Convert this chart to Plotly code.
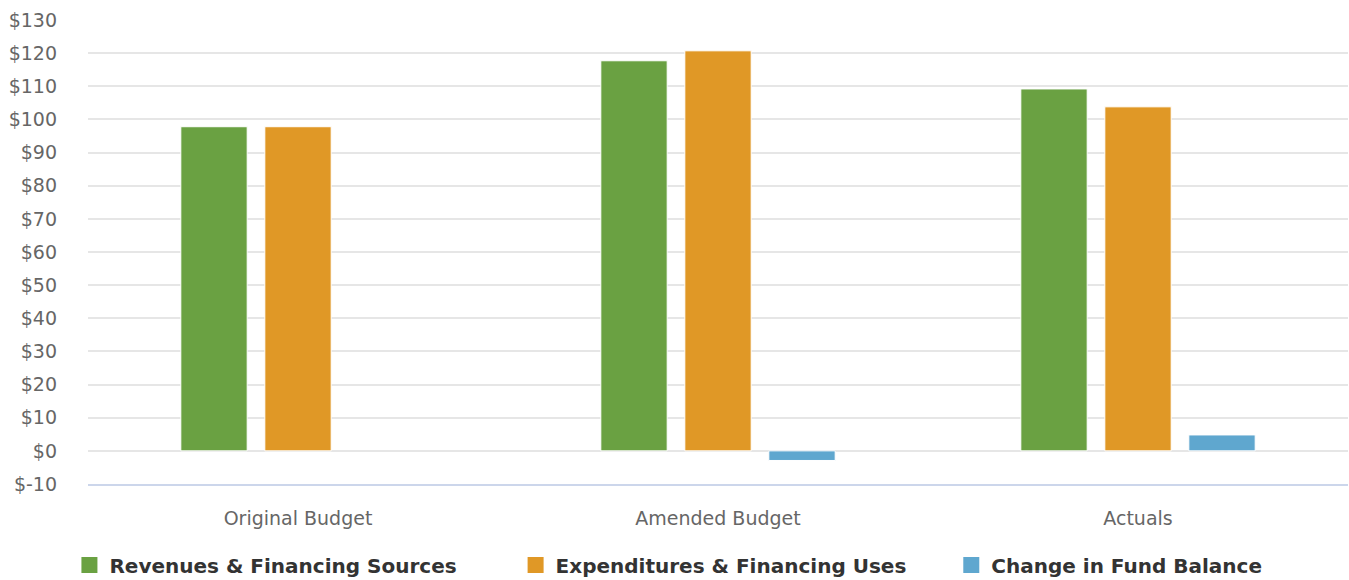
import plotly.graph_objects as go

categories = ["Original Budget", "Amended Budget", "Actuals"]
revenues = [97.8, 117.7, 109.2]
expenditures = [97.8, 120.7, 103.8]
change = [0, -2.9, 4.8]
series_names = ["Revenues & Financing Sources", "Expenditures & Financing Uses", "Change in Fund Balance"]
legend_pad = ["\u2003\u2003\u2002\u2009", "\u2003\u2002\u2002", ""]
colors = ["#6aa142", "#e09826", "#5fa7cf"]
tick_vals = [-10, 0, 10, 20, 30, 40, 50, 60, 70, 80, 90, 100, 110, 120, 130]
tick_text = ["$-10", "$0", "$10", "$20", "$30", "$40", "$50", "$60", "$70", "$80", "$90", "$100", "$110", "$120", "$130"]

fig = go.Figure()
for name, vals, col in zip(series_names, [revenues, expenditures, change], colors):
    fig.add_trace(go.Bar(x=categories, y=vals, name=name,
                         marker=dict(color=col, line=dict(color="white", width=[0 if v == 0 else 1 for v in vals])),
                         showlegend=False))
for name, pad, col in zip(series_names, legend_pad, colors):
    fig.add_trace(go.Scatter(x=[None], y=[None], mode="markers", name=name + pad,
                             marker=dict(symbol="square", size=24, color=col)))

fig.update_layout(
    width=1349, height=580,
    margin=dict(l=88, r=1, t=20, b=96, autoexpand=False),
    paper_bgcolor="white", plot_bgcolor="white",
    barmode="group", bargap=0.4, bargroupgap=0.21,
    font=dict(family="DejaVu Sans", size=19, color="#666666"),
    showlegend=True,
    legend=dict(orientation="h", xref="container", yref="container", x=0.4955, xanchor="center",
                y=0.026, yanchor="middle",
                font=dict(family="DejaVu Sans", size=20, color="#333333", weight="bold"),
                bgcolor="rgba(0,0,0,0)"),
    xaxis=dict(showgrid=False, showline=True, linecolor="#ccd6eb", linewidth=2, ticks="",
               ticklabelstandoff=16, tickfont=dict(size=19, color="#666666"), fixedrange=True),
    yaxis=dict(range=[-10, 130], tickvals=tick_vals, ticktext=tick_text, showgrid=True,
               gridcolor="#e6e6e6", gridwidth=2, zeroline=False, showline=False,
               ticklabelstandoff=30, tickfont=dict(size=19, color="#666666")),
)

fig.write_html("out.html")
